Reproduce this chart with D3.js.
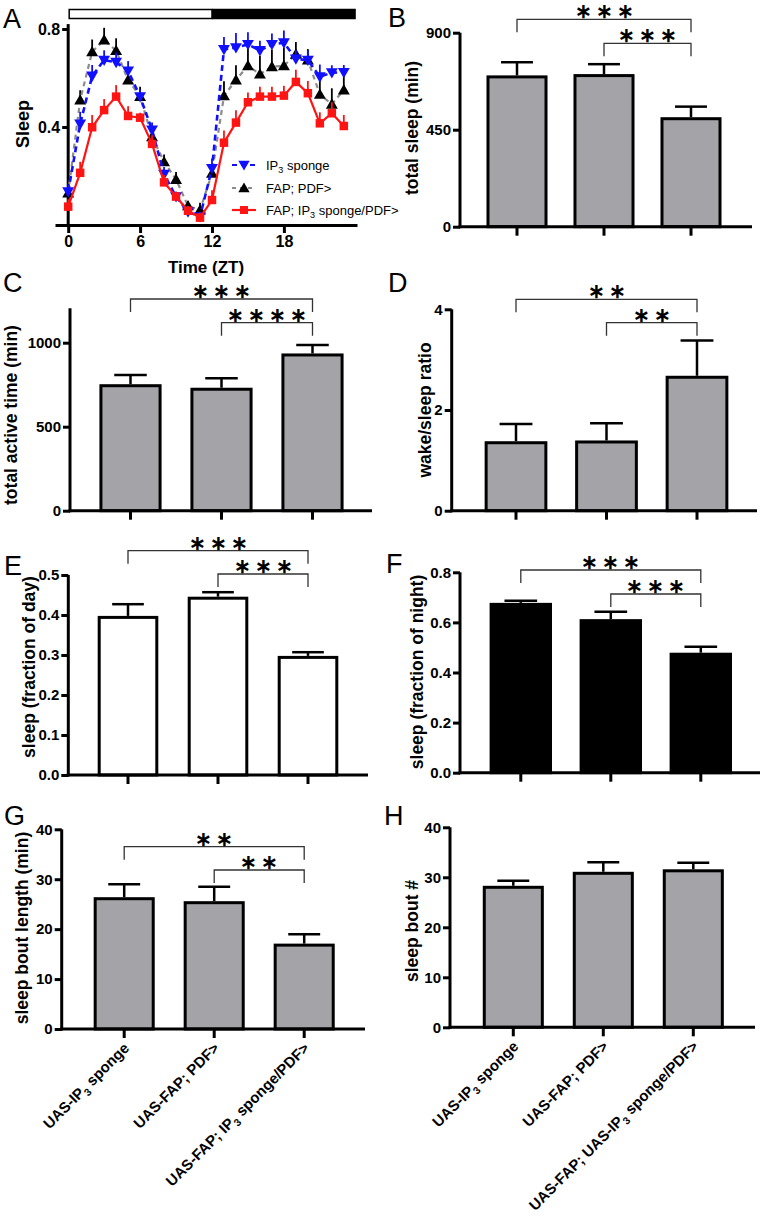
<!DOCTYPE html>
<html><head><meta charset="utf-8">
<script src="https://cdn.jsdelivr.net/npm/d3@7"></script>
<style>body{margin:0;background:#fff} svg{display:block} text{font-family:"Liberation Sans", Arial, sans-serif}</style>
</head><body>
<svg id="fig" width="762" height="1222"></svg>
<script>
// ---------- Panel A data ----------
const zt = [0,1,2,3,4,5,6,7,8,9,10,11,12,13,14,15,16,17,18,19,20,21,22,23];
const sleepSponge = [0.136,0.412,0.608,0.673,0.664,0.629,0.524,0.388,0.207,0.116,0.054,0.034,0.231,0.717,0.724,0.737,0.712,0.737,0.744,0.678,0.673,0.605,0.622,0.623];
const semSponge   = [0.03,0.05,0.045,0.04,0.04,0.04,0.03,0.03,0.03,0.02,0.02,0.02,0.04,0.05,0.06,0.05,0.04,0.045,0.05,0.035,0.04,0.05,0.03,0.03];
const sleepFapPdf = [0.13,0.510,0.707,0.755,0.712,0.592,0.524,0.360,0.258,0.186,0.078,0.061,0.211,0.527,0.592,0.650,0.616,0.646,0.650,0.697,0.673,0.533,0.493,0.551];
const semFapPdf   = [0.03,0.04,0.05,0.05,0.05,0.05,0.04,0.03,0.03,0.03,0.02,0.03,0.04,0.06,0.06,0.075,0.075,0.07,0.075,0.05,0.045,0.08,0.065,0.075];
const sleepFapSponge = [0.075,0.213,0.399,0.469,0.524,0.445,0.438,0.331,0.174,0.116,0.058,0.030,0.102,0.336,0.418,0.501,0.524,0.524,0.528,0.584,0.538,0.415,0.456,0.404];
const semFapSponge   = [0.03,0.045,0.05,0.045,0.047,0.04,0.02,0.035,0.03,0.02,0.02,0.02,0.04,0.05,0.05,0.04,0.04,0.04,0.04,0.05,0.05,0.045,0.045,0.045];
const ztTicks = [0,6,12,18];
const sleepTicks = [0.4,0.8];
const seriesNames = ["IP3 sponge","FAP; PDF>","FAP; IP3 sponge/PDF>"];

// ---------- Bar panel data ----------
const genotypes = ["UAS-IP3 sponge","UAS-FAP; PDF>","UAS-FAP; IP3 sponge/PDF>"];
const genotypesH = ["UAS-IP3 sponge","UAS-FAP; PDF>","UAS-FAP; UAS-IP3 sponge/PDF>"];
const totalSleep = [695, 701, 501];
const totalSleepSem = [68, 53, 56];
const totalSleepTicks = [0, 450, 900];
const activeTime = [744, 723, 927];
const activeTimeSem = [64, 65, 59];
const activeTimeTicks = [0, 500, 1000];
const wakeSleep = [1.35, 1.365, 2.65];
const wakeSleepSem = [0.37, 0.37, 0.73];
const wakeSleepTicks = [0, 2, 4];
const dayFrac = [0.394, 0.442, 0.294];
const dayFracSem = [0.033, 0.015, 0.013];
const dayFracTicks = [0, 0.1, 0.2, 0.3, 0.4, 0.5];
const nightFrac = [0.672, 0.607, 0.473];
const nightFracSem = [0.014, 0.036, 0.030];
const nightFracTicks = [0, 0.2, 0.4, 0.6, 0.8];
const boutLength = [26.1, 25.3, 16.8];
const boutLengthSem = [2.9, 3.2, 2.2];
const boutNumber = [28.0, 30.8, 31.3];
const boutNumberSem = [1.3, 2.2, 1.6];
const boutTicks = [0, 10, 20, 30, 40];
const sigB = [[0,2,"***"],[1,2,"***"]];
const sigC = [[0,2,"***"],[1,2,"****"]];
const sigD = [[0,2,"**"],[1,2,"**"]];
const sigE = [[0,2,"***"],[1,2,"***"]];
const sigF = [[0,2,"***"],[1,2,"***"]];
const sigG = [[0,2,"**"],[1,2,"**"]];

const svg = d3.select("#fig");
const BLUE = "#1010ff", RED = "#ff1414", GRAY = "#8c8c8c", BARGRAY = "#a3a3a8";
const TICKFS = 15, LABFS = 17.5;

// ---------- Panel A ----------
(function(){
  const x = d3.scaleLinear().domain([-1.1, 24.1]).range([55, 357]);
  const y = d3.scaleLinear().domain([0, 0.8]).range([225, 29]);
  const g = svg.append("g");
  g.append("rect").attr("x", x(0)+1).attr("y", 9.5).attr("width", x(12)-x(0)-1).attr("height", 9)
    .attr("fill", "#fff").attr("stroke", "#000").attr("stroke-width", 1.5);
  g.append("rect").attr("x", x(12)).attr("y", 8.75).attr("width", x(24)-x(12)).attr("height", 10.5).attr("fill", "#000");
  const ya = g.append("g").attr("transform", `translate(${x(0)},0)`)
    .call(d3.axisLeft(y).tickValues(sleepTicks).tickSize(6).tickPadding(2).tickFormat(d3.format(".1f")));
  ya.select(".domain").remove();
  g.append("line").attr("x1", x(0)).attr("x2", x(0)).attr("y1", y(0)).attr("y2", y(0.82))
    .attr("stroke", "#000").attr("stroke-width", 3);
  const xa = g.append("g").attr("transform", `translate(0,${y(0)})`)
    .call(d3.axisBottom(x).tickValues(ztTicks).tickSize(8).tickSizeOuter(0).tickPadding(3));
  xa.select(".domain").attr("stroke-width", 3);
  [ya, xa].forEach(a => {
    a.selectAll(".tick line").attr("stroke-width", 3);
    a.selectAll(".tick text").attr("font-size", TICKFS + 1).attr("font-weight", "bold").attr("fill", "#000")
      .attr("font-family", "Liberation Sans, Arial, sans-serif");
  });
  g.append("text").attr("x", 206).attr("y", 273).attr("text-anchor", "middle")
    .attr("font-size", 17).attr("font-weight", "bold").text("Time (ZT)");
  g.append("text").attr("transform", "translate(23,124) rotate(-90)").attr("dy", "0.35em")
    .attr("text-anchor", "middle").attr("font-size", 18).attr("font-weight", "bold").text("Sleep");

  const series = [
    {v: sleepFapPdf, s: semFapPdf, line: GRAY, mark: "#000", dash: "5,4", sym: d3.symbolTriangle, rot: 0, w: 2.2},
    {v: sleepSponge, s: semSponge, line: BLUE, mark: BLUE, dash: "6,4", sym: d3.symbolTriangle, rot: 180, w: 2.6},
    {v: sleepFapSponge, s: semFapSponge, line: RED, mark: RED, dash: null, sym: d3.symbolSquare, rot: 0, w: 2.2}
  ];
  series.forEach(sr => {
    const sg = g.append("g");
    sg.selectAll("line.err").data(zt).join("line")
      .attr("x1", d => x(d)).attr("x2", d => x(d))
      .attr("y1", (d,i) => y(sr.v[i])).attr("y2", (d,i) => y(sr.v[i] + sr.s[i]))
      .attr("stroke", sr.mark).attr("stroke-width", 1.8);
    sg.append("path").datum(zt)
      .attr("d", d3.line().x(d => x(d)).y((d,i) => y(sr.v[i])))
      .attr("fill", "none").attr("stroke", sr.line).attr("stroke-width", sr.w)
      .attr("stroke-dasharray", sr.dash);
    sg.selectAll("path.m").data(zt).join("path")
      .attr("transform", (d,i) => `translate(${x(d)},${y(sr.v[i]) + (sr.rot ? -1 : (sr.sym === d3.symbolTriangle ? 1 : 0))}) rotate(${sr.rot})`)
      .attr("d", d3.symbol(sr.sym, sr.sym === d3.symbolSquare ? 72 : 62))
      .attr("fill", sr.mark);
  });
  const leg = [
    {name: seriesNames[0], line: BLUE, mark: BLUE, dash: "5,4", sym: d3.symbolTriangle, rot: 180, y: 165},
    {name: seriesNames[1], line: GRAY, mark: "#000", dash: "4,4", sym: d3.symbolTriangle, rot: 0, y: 188},
    {name: seriesNames[2], line: RED, mark: RED, dash: null, sym: d3.symbolSquare, rot: 0, y: 210}
  ];
  leg.forEach(l => {
    g.append("line").attr("x1", 232).attr("x2", 256).attr("y1", l.y).attr("y2", l.y)
      .attr("stroke", l.line).attr("stroke-width", 2.2).attr("stroke-dasharray", l.dash);
    g.append("path").attr("transform", `translate(244,${l.y + (l.rot ? -1 : (l.sym === d3.symbolTriangle ? 1 : 0))}) rotate(${l.rot})`)
      .attr("d", d3.symbol(l.sym, l.sym === d3.symbolSquare ? 64 : 56)).attr("fill", l.mark);
    const t = g.append("text").attr("x", 266).attr("y", l.y + 4.5).attr("font-size", 13);
    const parts = l.name.split("IP3");
    if (parts.length > 1) {
      t.append("tspan").text(parts[0] + "IP");
      t.append("tspan").attr("font-size", 9).attr("dy", 3).text("3");
      t.append("tspan").attr("dy", -3).text(parts[1]);
    } else t.text(l.name);
  });
  g.append("text").attr("x", 3).attr("y", 28).attr("font-size", 27).text("A");
})();

// ---------- bar panels ----------
function labelWithSub(t, s) {
  const parts = s.split("IP3");
  parts.forEach((p, i) => {
    if (i > 0) {
      t.append("tspan").attr("font-size", "0.7em").attr("dy", 4).text("3");
      t.append("tspan").attr("dy", -4).text(p);
    } else t.append("tspan").text(p + (parts.length > 1 ? "IP" : ""));
  });
}

function barPanel(c) {
  const g = svg.append("g");
  const x = d3.scaleBand().domain(c.cats).range(c.band).paddingInner(c.pi).paddingOuter(c.pi / 2);
  const y = d3.scaleLinear().domain([0, c.ticks[c.ticks.length - 1]]).range([c.y0, c.yT]);
  const cx = i => x(c.cats[i]) + x.bandwidth() / 2;
  g.selectAll("rect.bar").data(c.values).join("rect")
    .attr("x", (d,i) => x(c.cats[i])).attr("width", x.bandwidth())
    .attr("y", d => y(d)).attr("height", d => y(0) - y(d))
    .attr("fill", c.fill).attr("stroke", "#000").attr("stroke-width", 3);
  const cap = x.bandwidth() * 0.55;
  g.selectAll("line.ev").data(c.values).join("line")
    .attr("x1", (d,i) => cx(i)).attr("x2", (d,i) => cx(i))
    .attr("y1", d => y(d) - 1.5).attr("y2", (d,i) => y(d + c.sem[i]))
    .attr("stroke", "#000").attr("stroke-width", 2.5);
  g.selectAll("line.ec").data(c.values).join("line")
    .attr("x1", (d,i) => cx(i) - cap/2).attr("x2", (d,i) => cx(i) + cap/2)
    .attr("y1", (d,i) => y(d + c.sem[i])).attr("y2", (d,i) => y(d + c.sem[i]))
    .attr("stroke", "#000").attr("stroke-width", 2.5);
  const ya = g.append("g").attr("transform", `translate(${c.ax},0)`)
    .call(d3.axisLeft(y).tickValues(c.ticks).tickSize(7).tickPadding(2).tickFormat(c.fmt || (d => d)));
  ya.select(".domain").remove();
  ya.selectAll(".tick line").attr("stroke-width", 3);
  ya.selectAll(".tick text").attr("font-size", TICKFS).attr("font-weight", "bold").attr("fill", "#000")
    .attr("font-family", "Liberation Sans, Arial, sans-serif");
  g.append("line").attr("x1", c.ax).attr("x2", c.ax).attr("y1", c.y0 + 1.5).attr("y2", c.axisTop !== undefined ? y(c.axisTop) : c.yT)
    .attr("stroke", "#000").attr("stroke-width", 3);
  g.append("line").attr("x1", c.ax - 1.5).attr("x2", c.xr).attr("y1", c.y0).attr("y2", c.y0)
    .attr("stroke", "#000").attr("stroke-width", 3);
  g.selectAll("line.xt").data(c.cats).join("line")
    .attr("x1", (d,i) => cx(i)).attr("x2", (d,i) => cx(i)).attr("y1", c.y0).attr("y2", c.y0 + 9)
    .attr("stroke", "#000").attr("stroke-width", 3);
  g.append("text").attr("transform", `translate(${c.lx},${c.ly}) rotate(-90)`).attr("dy", "0.35em")
    .attr("text-anchor", "middle").attr("font-size", LABFS).attr("font-weight", "bold").text(c.ylabel);
  g.append("text").attr("x", c.px).attr("y", c.py).attr("font-size", 27).text(c.letter);
  (c.sig || []).forEach((s, k) => {
    const by = c.by[k];
    const x1 = cx(s[0]), x2 = cx(s[1]);
    g.append("path").attr("d", `M${x1},${by + 13}V${by}H${x2}V${by + 13}`)
      .attr("fill", "none").attr("stroke", "#333").attr("stroke-width", 1.3);
    g.append("text").attr("x", (x1 + x2) / 2 + 2).attr("y", by - 1).attr("text-anchor", "middle")
      .attr("font-family", "DejaVu Sans, sans-serif").attr("font-size", 20).attr("font-weight", "bold")
      .attr("letter-spacing", 4)
      .text(s[2].replace(/\*/g, "\u2217"));
  });
  if (c.showLabels) {
    c.cats.forEach((name, i) => {
      const t = g.append("text").attr("transform", `translate(${cx(i) + 6},${c.y0 + 20}) rotate(-45)`)
        .attr("text-anchor", "end").attr("font-size", 15).attr("font-weight", "bold");
      labelWithSub(t, name);
    });
  }
}

barPanel({letter: "B", px: 388, py: 27, cats: genotypes, values: totalSleep, sem: totalSleepSem, ticks: totalSleepTicks,
  band: [473.5, 734.5], pi: 0.333, y0: 226.7, yT: 32.7, ax: 460, xr: 752, fill: BARGRAY,
  ylabel: "total sleep (min)", lx: 412, ly: 128, sig: sigB, by: [19.3, 43.3]});
barPanel({letter: "C", px: 3, py: 292, cats: genotypes, values: activeTime, sem: activeTimeSem, ticks: activeTimeTicks, axisTop: 1205,
  band: [85, 358], pi: 0.35, y0: 510.7, yT: 342.7, ax: 70, xr: 372, fill: BARGRAY,
  ylabel: "total active time (min)", lx: 11, ly: 415, sig: sigC, by: [299, 322.7]});
barPanel({letter: "D", px: 388, py: 292, cats: genotypes, values: wakeSleep, sem: wakeSleepSem, ticks: wakeSleepTicks,
  band: [470.75, 742.25], pi: 0.34, y0: 510.7, yT: 309.3, ax: 451.7, xr: 757, fill: BARGRAY,
  ylabel: "wake/sleep ratio", lx: 425, ly: 410, sig: sigD, by: [299.3, 322.7]});
barPanel({letter: "E", px: 4, py: 575, cats: genotypes, values: dayFrac, sem: dayFracSem, ticks: dayFracTicks, fmt: d3.format(".1f"),
  band: [83, 353], pi: 0.36, y0: 775, yT: 575, ax: 68.3, xr: 368, fill: "#fff",
  ylabel: "sleep (fraction of day)", lx: 29, ly: 667, sig: sigE, by: [550.7, 574]});
barPanel({letter: "F", px: 386, py: 573, cats: genotypes, values: nightFrac, sem: nightFracSem, ticks: nightFracTicks, fmt: d3.format(".1f"),
  band: [475.8, 745.8], pi: 0.34, y0: 772.7, yT: 572.3, ax: 460, xr: 760, fill: "#000",
  ylabel: "sleep (fraction of night)", lx: 417, ly: 672, sig: sigF, by: [570, 594]});
barPanel({letter: "G", px: 4, py: 825, cats: genotypes, values: boutLength, sem: boutLengthSem, ticks: boutTicks,
  band: [79.2, 349.2], pi: 0.355, y0: 1029, yT: 829.3, ax: 61.7, xr: 365, fill: BARGRAY,
  ylabel: "sleep bout length (min)", lx: 22, ly: 928, sig: sigG, by: [846.7, 870], showLabels: true});
barPanel({letter: "H", px: 384, py: 825, cats: genotypesH, values: boutNumber, sem: boutNumberSem, ticks: boutTicks,
  band: [468.3, 738.3], pi: 0.355, y0: 1027.3, yT: 827.3, ax: 450, xr: 755, fill: BARGRAY,
  ylabel: "sleep bout #", lx: 412, ly: 931, showLabels: true});
</script>
</body></html>
